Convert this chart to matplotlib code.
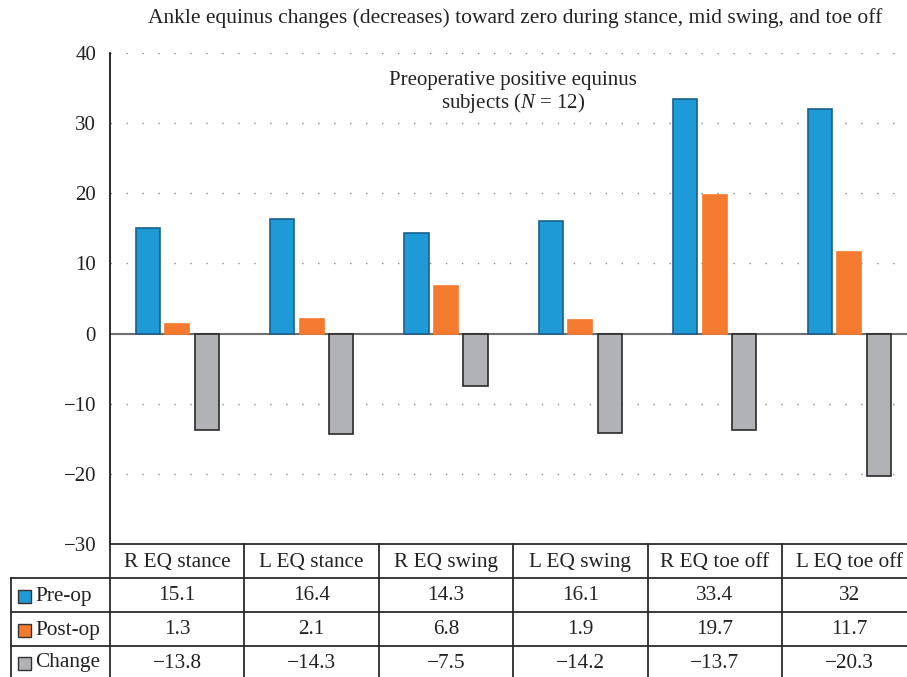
import matplotlib
matplotlib.use("Agg")
import matplotlib.pyplot as plt
import matplotlib.transforms as mtransforms
from matplotlib.patches import Rectangle
import numpy as np

plt.rcParams['font.family'] = ['Liberation Serif', 'DejaVu Serif']
plt.rcParams['mathtext.fontset'] = 'custom'
plt.rcParams['mathtext.rm'] = 'Liberation Serif'
plt.rcParams['mathtext.it'] = 'Liberation Serif:italic'

categories = ["R EQ stance", "L EQ stance", "R EQ swing", "L EQ swing", "R EQ toe off", "L EQ toe off"]
series_names = ["Pre-op", "Post-op", "Change"]
pre_op = [15.1, 16.4, 14.3, 16.1, 33.4, 32]
post_op = [1.3, 2.1, 6.8, 1.9, 19.7, 11.7]
change = [-13.8, -14.3, -7.5, -14.2, -13.7, -20.3]
yticks = [40, 30, 20, 10, 0, -10, -20, -30]

title = "Ankle equinus changes (decreases) toward zero during stance, mid swing, and toe off"

colors = ["#1e9bd7", "#f47a30", "#b1b2b6"]
edges = ["#1b5f8c", "#f47a30", "#2a2a2a"]

W, H = 907, 677
fig = plt.figure(figsize=(W / 100, H / 100), dpi=100)

def fx(px):
    return px / W

def fy(py):
    return 1 - py / H

ax_left, ax_top, ax_bot = 110, 53, 544
col_w = 134.4
ax = fig.add_axes([fx(ax_left), fy(ax_bot), fx(col_w * 6), (ax_bot - ax_top) / H])
ax.set_xlim(-0.5, 5.5)
ax.set_ylim(-30, 40)

x = np.arange(len(categories))
bw = 0.18
off = 0.22
for i, vals in enumerate([pre_op, post_op, change]):
    ax.bar(x + (i - 1) * off, vals, width=bw, color=colors[i], edgecolor=edges[i],
           linewidth=1.2, zorder=3)

for t in yticks:
    if t == 0:
        continue
    ax.axhline(t, color="#8a8a8a", linestyle=(0, (1, 10.5)), linewidth=1.0, zorder=1)
ax.axhline(0, color="#6f6f6f", linewidth=1.5, zorder=2)

for s in ["top", "right", "bottom"]:
    ax.spines[s].set_visible(False)
ax.spines["left"].set_linewidth(1.3)
ax.spines["left"].set_color("#1a1a1a")
ax.set_yticks(yticks)
ax.set_yticklabels([("\u2212" + str(abs(t))) if t < 0 else str(t) for t in yticks],
                   fontsize=15, color="#222222")
ax.tick_params(axis="y", length=0, pad=10)
ax.set_xticks([])

fig.text(fx(515), fy(18), title, ha="center", va="center", fontsize=15.5, color="#222222")
fig.text(fx(513), fy(80), "Preoperative positive equinus", ha="center", va="center",
         fontsize=15, color="#222222")
fig.text(fx(513), fy(103), "subjects ($N$ = 12)", ha="center", va="center",
         fontsize=15, color="#222222")

# table
tr = mtransforms.blended_transform_factory(ax.transData, fig.transFigure)
row_y = [544, 578, 612, 646, 680]
lc = "#2a2a2a"
lw = 1.3
fig.add_artist(plt.Line2D([fx(110), 1.0], [fy(544), fy(544)], color=lc, lw=lw))
for yy in row_y[1:4]:
    fig.add_artist(plt.Line2D([fx(11), 1.0], [fy(yy), fy(yy)], color=lc, lw=lw))
fig.add_artist(plt.Line2D([fx(11), fx(11)], [fy(578), 0], color=lc, lw=lw))
for b in np.arange(len(categories)) - 0.5:
    ax.plot([b, b], [fy(544), 0], transform=tr, color=lc, lw=lw, clip_on=False)

for j, cat in enumerate(categories):
    ax.text(j, fy((544 + 578) / 2 + 1), cat, transform=tr, ha="center", va="center",
            fontsize=15.3, color="#222222")

def fmt(v):
    s = f"{abs(v):g}"
    return ("\u2212" + s) if v < 0 else s

for r, vals in enumerate([pre_op, post_op, change]):
    yc = fy((row_y[r + 1] + row_y[r + 2]) / 2 + 1) if r < 2 else fy(663)
    for j, v in enumerate(vals):
        ax.text(j, yc, fmt(v), transform=tr, ha="center", va="center",
                fontsize=15.3, color="#222222")
    fig.add_artist(Rectangle((fx(18), yc - 6.5 / H), 13 / W, 13 / H, transform=fig.transFigure,
                             facecolor=colors[r], edgecolor="#333333", linewidth=1))
    fig.text(fx(35), yc, series_names[r], ha="left", va="center", fontsize=15.3, color="#222222")

fig.savefig("out.png", dpi=100)
